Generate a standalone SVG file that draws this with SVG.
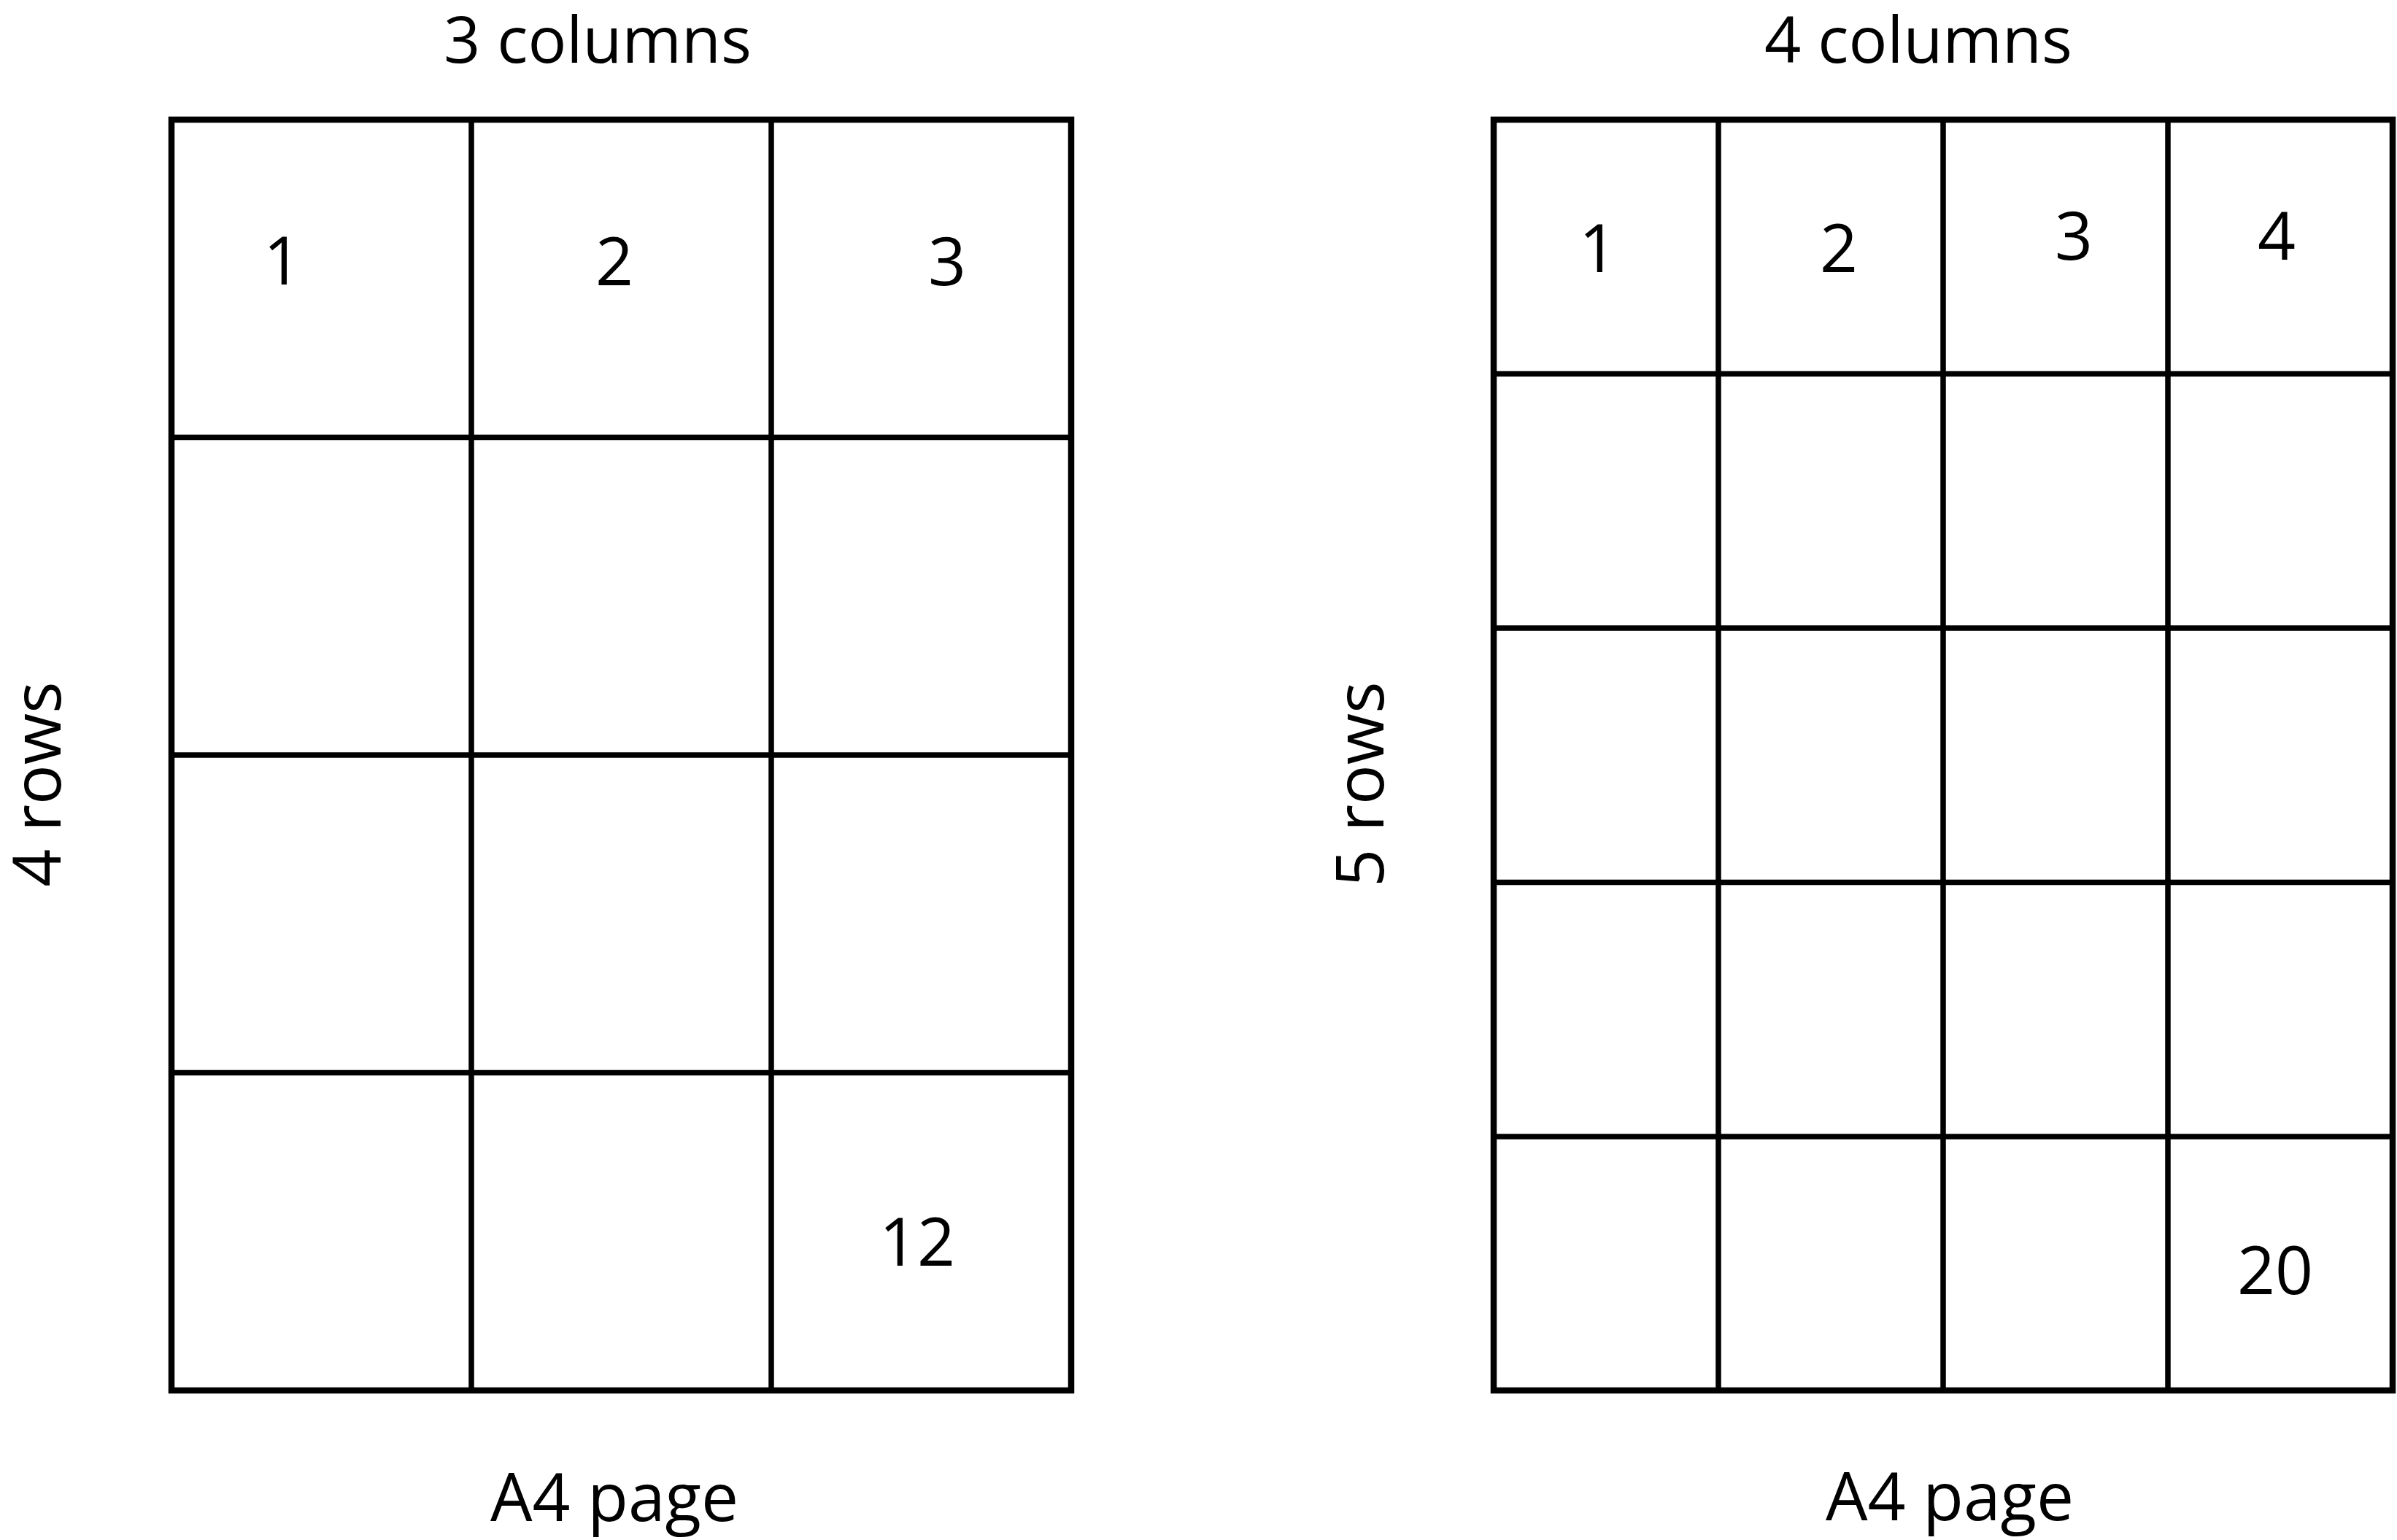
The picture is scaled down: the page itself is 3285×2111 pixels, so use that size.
<svg xmlns="http://www.w3.org/2000/svg" width="3285" height="2111" viewBox="0 0 3285 2111">
<style>
.bg{fill:#ffffff}
.frame{fill:none;stroke:#000;stroke-width:8.5}
.div{stroke:#000;stroke-width:7.5;fill:none}
.t{font-family:"Open Sans","Noto Sans","Liberation Sans",sans-serif;font-size:91px;fill:#000;text-anchor:middle}
.h{font-size:88px}
</style>
<rect class="bg" x="0" y="0" width="3285" height="2111"/>
<g id="left-page">
  <rect class="frame" x="235" y="164" width="1233" height="1742"/>
  <path class="div" d="M646 164V1906M1057 164V1906M235 599.5H1468M235 1035H1468M235 1470.5H1468"/>
  <text class="t h" x="819" y="86">3 columns</text>
  <text class="t" x="83" y="1075" transform="rotate(-90 83 1075)">4 rows</text>
  <text class="t" x="842" y="2085">A4 page</text>
  <text class="t" x="387" y="390">1</text>
  <text class="t" x="842" y="391">2</text>
  <text class="t" x="1298" y="391">3</text>
  <text class="t" x="1257" y="1735">12</text>
</g>
<g id="right-page">
  <rect class="frame" x="2047" y="164" width="1232" height="1742"/>
  <path class="div" d="M2355 164V1906M2663 164V1906M2971 164V1906M2047 512.5H3279M2047 861H3279M2047 1209.5H3279M2047 1558H3279"/>
  <text class="t h" x="2629" y="86">4 columns</text>
  <text class="t" x="1896" y="1075" transform="rotate(-90 1896 1075)">5 rows</text>
  <text class="t" x="2672" y="2084">A4 page</text>
  <text class="t" x="2190" y="373">1</text>
  <text class="t" x="2520" y="373">2</text>
  <text class="t" x="2842" y="356">3</text>
  <text class="t" x="3120" y="356">4</text>
  <text class="t" x="3118" y="1774">20</text>
</g>
<g id="connectors"/>
</svg>
